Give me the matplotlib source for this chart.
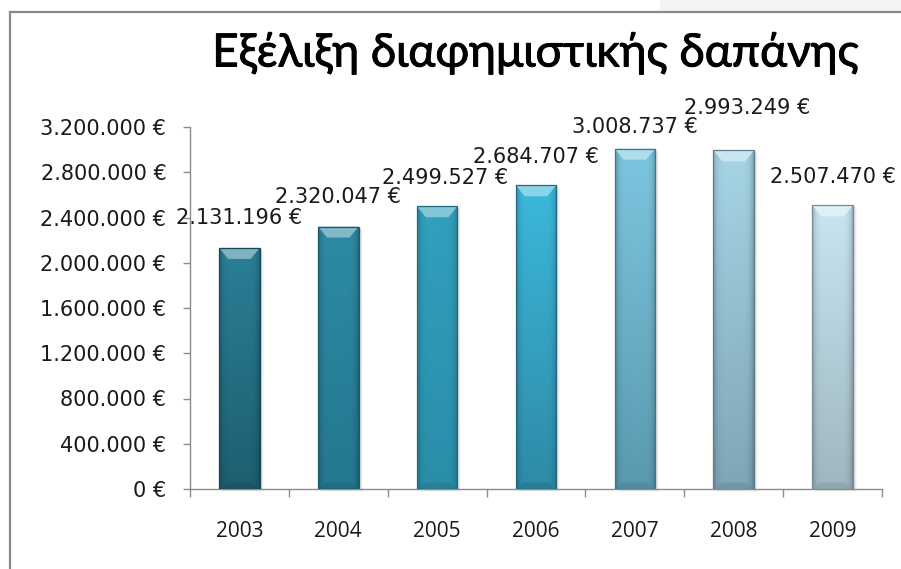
import numpy as np
import matplotlib.pyplot as plt
import matplotlib.patheffects as pe
from matplotlib.colors import to_rgb
from matplotlib.patches import Polygon, Rectangle
from matplotlib.ticker import FuncFormatter, FixedLocator

plt.rcParams["font.family"] = ["Open Sans", "DejaVu Sans"]

# Advertising spend per year (EUR)
years = ["2003", "2004", "2005", "2006", "2007", "2008", "2009"]
spend = [2131196, 2320047, 2499527, 2684707, 3008737, 2993249, 2507470]

# bar colours: light top, darker bottom
top_colors = ["#2a7f97", "#2e8ba5", "#31a0bf", "#3cb8dc", "#7cc6df", "#a5d5e6", "#c8e6f0"]
bottom_colors = ["#1d5f70", "#24788f", "#2a8ea8", "#2e8ba6", "#5a9ab0", "#7fa6b6", "#9fb7c1"]

# label offsets in pixels (dx, dy) from the top of each bar
label_offsets = [(0, 30), (0, 30), (8, 28), (0, 28), (0, 22), (13, 42), (0, 28)]


def euro(v, pos=None):
    return f"{v:,.0f}".replace(",", ".") + " €"


W, H = 901, 569
fig = plt.figure(figsize=(W / 100, H / 100), dpi=100)
fig.patch.set_facecolor("white")

# slide frame
fig.add_artist(Rectangle((660 / W, 1 - 11 / H), 1, 11 / H, transform=fig.transFigure,
                         color="#f4f4f4", lw=0))
fig.add_artist(plt.Line2D([10 / W, 10 / W], [0, 1 - 12 / H], color="#8a8a8a", lw=1.6))
fig.add_artist(plt.Line2D([10 / W, 1], [1 - 12 / H, 1 - 12 / H], color="#8a8a8a", lw=1.6))

ax = fig.add_axes([190 / W, 1 - 489 / H, (882 - 190) / W, (489 - 127) / H])
ax.set_xlim(-0.5, len(years) - 0.5)
ax.set_ylim(0, 3200000)

px_x = len(years) / 692
px_y = 3200000 / 362
width = 0.41

x = np.arange(len(years))
bars = ax.bar(x, spend, width, color=top_colors, zorder=3, linewidth=0)

for i, (b, v) in enumerate(zip(bars, spend)):
    x0 = b.get_x()
    x1 = x0 + width
    tc = np.array(to_rgb(top_colors[i]))
    bc = np.array(to_rgb(bottom_colors[i]))

    # soft shadow on the right / bottom
    for k, a in enumerate([0.10, 0.07, 0.04]):
        ax.add_patch(Rectangle((x0 + (2 + k) * px_x, -(1 + k) * px_y), width, v,
                               color="#555555", alpha=a, lw=0, zorder=2, clip_on=False))

    # body gradient: vertical top->bottom, darker toward the sides
    ny, nx = 60, 40
    t = np.linspace(0, 1, ny)[:, None, None]
    col = tc[None, None, :] * (1 - t) + bc[None, None, :] * t
    u = np.linspace(-1, 1, nx)[None, :, None]
    shade = 1 - 0.22 * np.abs(u) ** 6
    img = np.clip(col * shade, 0, 1)
    im = ax.imshow(img, extent=[x0, x1, 0, v], aspect="auto", origin="upper",
                   interpolation="bilinear", zorder=3.5)
    im.set_clip_path(b)

    # bevelled cap and foot
    ins = 9 * px_x
    bev = 11 * px_y
    cap = tc + (1 - tc) * 0.4
    ax.add_patch(Polygon([(x0, v), (x1, v), (x1 - ins, v - bev), (x0 + ins, v - bev)],
                         closed=True, color=cap, lw=0, zorder=4))
    foot = bc * 0.85
    ax.add_patch(Polygon([(x0, 0), (x1, 0), (x1 - ins, 0.6 * bev), (x0 + ins, 0.6 * bev)],
                         closed=True, color=foot, alpha=0.6, lw=0, zorder=4))
    ax.add_patch(Rectangle((x0, 0), width, v, fill=False, ec=bc * 0.75, lw=0.9, zorder=5))

    dx, dy = label_offsets[i]
    ax.annotate(euro(v), (b.get_x() + width / 2, v), xytext=(dx * 0.72, dy * 0.72),
                textcoords="offset points", ha="center", va="center",
                fontsize=15, family="DejaVu Sans", color="#1a1a1a", zorder=6,
                annotation_clip=False)

ax.set_xlim(-0.5, len(years) - 0.5)
ax.set_ylim(0, 3200000)

ax.set_yticks(np.arange(0, 3200001, 400000))
ax.yaxis.set_major_formatter(FuncFormatter(euro))
ax.set_xticks(x)
ax.set_xticklabels(years)
ax.xaxis.set_minor_locator(FixedLocator(np.arange(-0.5, len(years), 1.0)))

ax.tick_params(axis="y", length=5, width=1, color="#8c8c8c", pad=12,
               labelsize=15, labelcolor="#1a1a1a")
ax.tick_params(axis="x", which="major", length=0, pad=23, labelsize=15,
               labelcolor="#1a1a1a")
ax.tick_params(axis="x", which="minor", length=6, width=1, color="#8c8c8c")
for lbl in ax.get_yticklabels():
    lbl.set_family("DejaVu Sans")

for s in ["top", "right"]:
    ax.spines[s].set_visible(False)
for s in ["left", "bottom"]:
    ax.spines[s].set_color("#8c8c8c")
    ax.spines[s].set_linewidth(1)
ax.set_facecolor("none")

fig.text(536 / W, 1 - 53 / H, "Εξέλιξη διαφημιστικής δαπάνης", ha="center", va="center",
         fontsize=33, family=["Lato", "DejaVu Sans"], color="black",
         path_effects=[pe.withStroke(linewidth=0.7, foreground="black")])

fig.savefig("out.png", dpi=100)
